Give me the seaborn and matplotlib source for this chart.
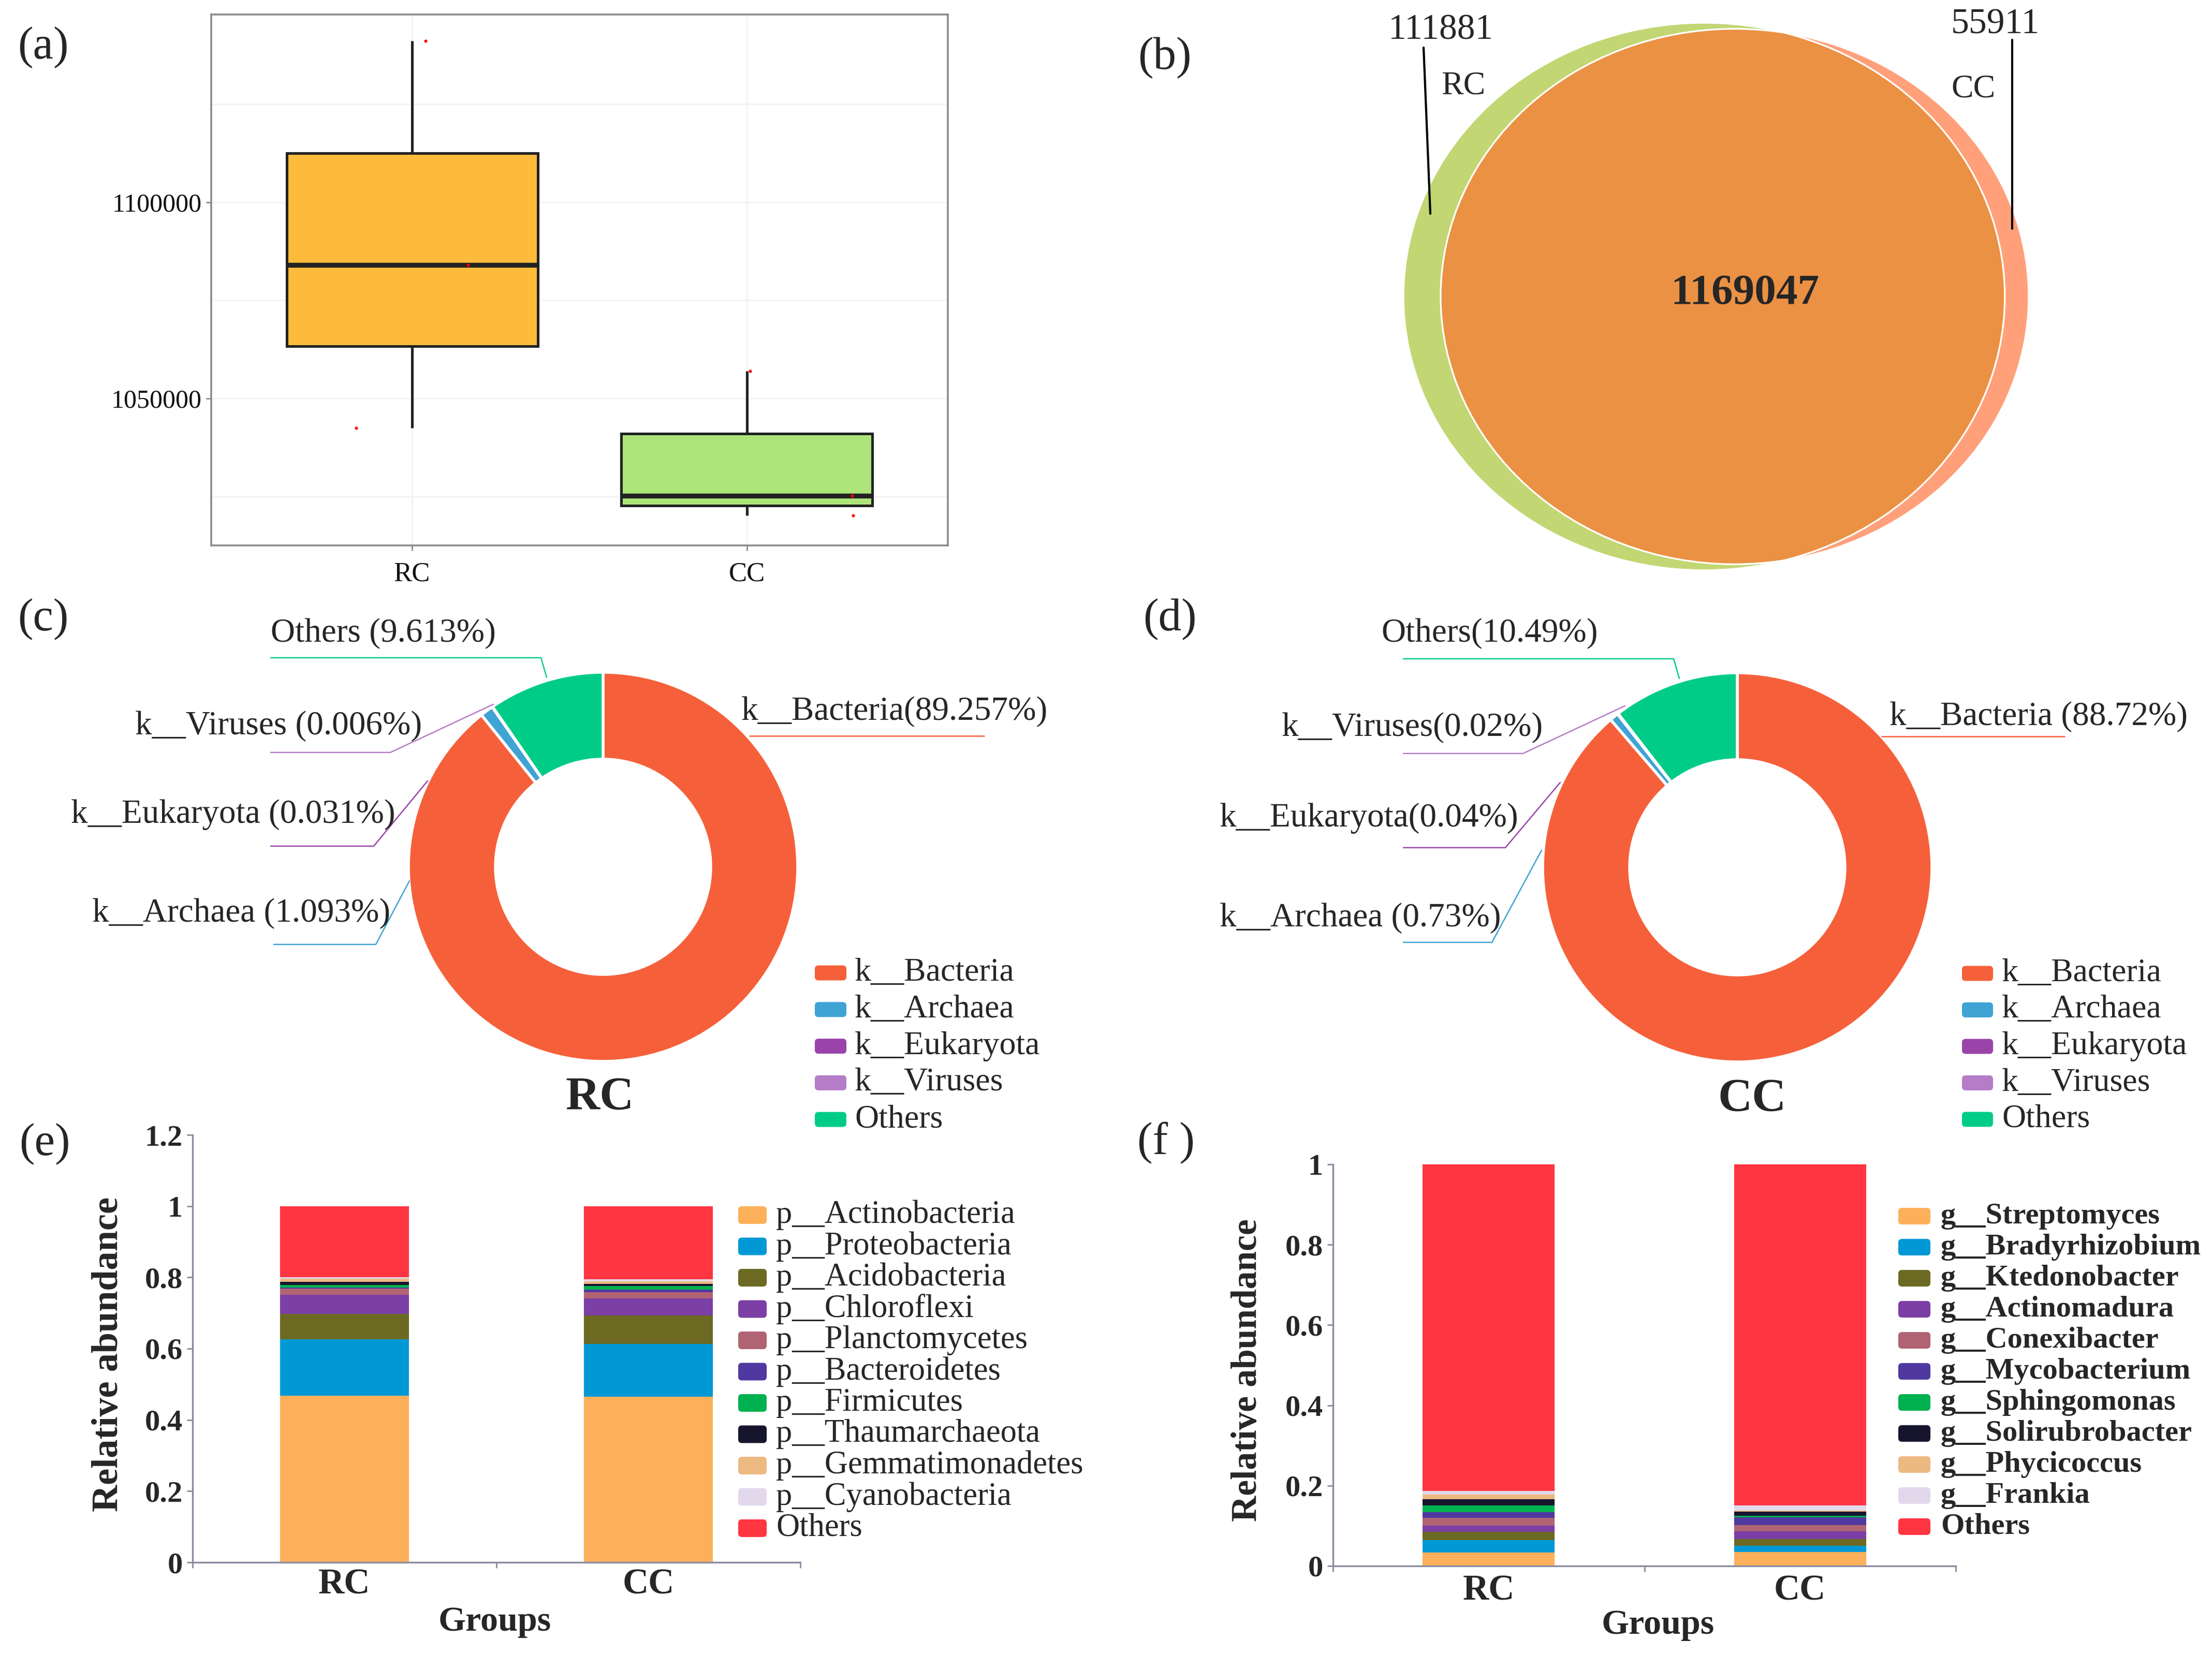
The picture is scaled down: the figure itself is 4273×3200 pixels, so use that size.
import numpy as np
import pandas as pd
import matplotlib
matplotlib.use('Agg')
import matplotlib.pyplot as plt
from matplotlib.patches import Circle, FancyBboxPatch
import seaborn as sns

sns.set_theme(style='white')
plt.rcParams['font.family'] = ['Liberation Serif', 'DejaVu Serif']

W, H = 4273, 3200
DPI = 200

# ---------------- data ----------------
groups = ['RC', 'CC']

# (a) boxplot values
rc_values = [1141000, 1084000, 1042500]
cc_values = [1057000, 1025200, 1020200]
box_colors = ['#FDBB3C', '#ADE57A']

# (b) venn counts
only_rc = 111881
only_cc = 55911
shared = 1169047

# (c)/(d) kingdom percentages
kingdoms = ['k__Bacteria', 'k__Archaea', 'k__Eukaryota', 'k__Viruses', 'Others']
kingdom_colors = ['#F5603A', '#3FA3D4', '#9A44AA', '#B57CC8', '#00CC88']
rc_kingdom = [89.257, 1.093, 0.031, 0.006, 9.613]
cc_kingdom = [88.72, 0.73, 0.04, 0.02, 10.49]
rc_seps = ['', ' ', ' ', ' ', ' ']
cc_seps = [' ', ' ', '', '', '']

# (e) phylum relative abundance
phyla = ['p__Actinobacteria', 'p__Proteobacteria', 'p__Acidobacteria', 'p__Chloroflexi',
         'p__Planctomycetes', 'p__Bacteroidetes', 'p__Firmicutes', 'p__Thaumarchaeota',
         'p__Gemmatimonadetes', 'p__Cyanobacteria', 'Others']
rc_phylum = [0.468, 0.158, 0.071, 0.054, 0.018, 0.003, 0.007, 0.008, 0.009, 0.005, 0.199]
cc_phylum = [0.465, 0.148, 0.080, 0.048, 0.018, 0.007, 0.010, 0.005, 0.008, 0.006, 0.205]

# (f) genus relative abundance
genera = ['g__Streptomyces', 'g__Bradyrhizobium', 'g__Ktedonobacter', 'g__Actinomadura',
          'g__Conexibacter', 'g__Mycobacterium', 'g__Sphingomonas', 'g__Solirubrobacter',
          'g__Phycicoccus', 'g__Frankia', 'Others']
rc_genus = [0.0335, 0.031, 0.020, 0.016, 0.019, 0.015, 0.016, 0.016, 0.011, 0.010, 0.8125]
cc_genus = [0.035, 0.0157, 0.0164, 0.0186, 0.0164, 0.0186, 0.0045, 0.0104, 0.0023, 0.0126, 0.8495]

taxon_colors = ['#FDB05A', '#0099D6', '#6C6A22', '#7B3FA5', '#B06473', '#4F39A0',
                '#00B14F', '#17152E', '#EDB982', '#E2D8EB', '#FF3541']

AXIS_GREY = '#8A8AA0'


def px_rect(x, y_top, w, h):
    return [x / W, 1 - (y_top + h) / H, w / W, h / H]


fig = plt.figure(figsize=(W / DPI, H / DPI), dpi=DPI)

# ---------------- (a) boxplot ----------------
ax_a = fig.add_axes(px_rect(408, 28, 1423, 1026))
df_a = pd.DataFrame({'group': ['RC'] * len(rc_values) + ['CC'] * len(cc_values),
                     'value': rc_values + cc_values})
sns.boxplot(data=df_a, x='group', y='value', hue='group', palette=box_colors, saturation=1,
            width=0.75, linewidth=1.8, linecolor='#222222', whis=np.inf, showcaps=False,
            fliersize=0, medianprops=dict(linewidth=3.4), legend=False, ax=ax_a, zorder=3)
np.random.seed(3)
sns.stripplot(data=df_a, x='group', y='value', color='red', size=2.2, jitter=0.4,
              ax=ax_a, zorder=4)
ax_a.set_xlim(-0.6, 1.6)
ax_a.set_ylim(1012576, 1147786)
ax_a.set_yticks([1050000, 1100000])
ax_a.set_yticklabels(['1050000', '1100000'])
ax_a.set_yticks([1025000, 1075000, 1125000], minor=True)
ax_a.grid(True, which='both', color='#F2F2F2', linewidth=1.0, zorder=0)
ax_a.set_axisbelow(True)
ax_a.set_xlabel('')
ax_a.set_ylabel('')
for sp in ax_a.spines.values():
    sp.set_visible(True)
    sp.set_color('#8C8C8C')
    sp.set_linewidth(1.3)
ax_a.tick_params(axis='both', which='major', bottom=True, left=True, length=3.5,
                 color='#8C8C8C', width=1.0, pad=3)
ax_a.tick_params(axis='y', which='major', labelsize=18, labelcolor='#111111')
ax_a.tick_params(axis='x', which='major', labelsize=19, labelcolor='#111111', pad=8)
ax_a.tick_params(which='minor', length=0)

# ---------------- (b) venn ----------------
def lens_area(r1, r2, d):
    if d >= r1 + r2:
        return 0.0
    if d <= abs(r1 - r2):
        return np.pi * min(r1, r2) ** 2
    a1 = r1 ** 2 * np.arccos((d ** 2 + r1 ** 2 - r2 ** 2) / (2 * d * r1))
    a2 = r2 ** 2 * np.arccos((d ** 2 + r2 ** 2 - r1 ** 2) / (2 * d * r2))
    a3 = 0.5 * np.sqrt((-d + r1 + r2) * (d + r1 - r2) * (d - r1 + r2) * (d + r1 + r2))
    return a1 + a2 - a3


r1 = np.sqrt((only_rc + shared) / np.pi)
r2 = np.sqrt((only_cc + shared) / np.pi)
lo, hi = abs(r1 - r2) + 1e-6, r1 + r2
for _ in range(100):
    mid = 0.5 * (lo + hi)
    if lens_area(r1, r2, mid) > shared:
        lo = mid
    else:
        hi = mid
d = 0.5 * (lo + hi)

# map circles to the panel box (the original panel is slightly stretched)
bx0, by0, bw, bh = 2600, 0, 1450, 1150
sx = (3919 - 2711) / (r1 + d + r2)
sy = 1058 / (2 * r1)
ax_b = fig.add_axes(px_rect(bx0, by0, bw, bh))
ax_b.set_xlim((bx0 - 2711) / sx - r1, (bx0 + bw - 2711) / sx - r1)
ax_b.set_ylim(-(by0 + bh - 573) / sy, (573 - by0) / sy)
ax_b.axis('off')
ax_b.add_patch(Circle((0, 0), r1, fc='#C2D673', ec='none'))
ax_b.add_patch(Circle((d, 0), r2, fc='#FFA07A', ec='none'))
inter = Circle((d, 0), r2, fc='#EB9144', ec='none')
ax_b.add_patch(inter)
inter.set_clip_path(Circle((0, 0), r1, transform=ax_b.transData))
ax_b.add_patch(Circle((0, 0), r1, fill=False, ec='white', lw=1.2))
ax_b.add_patch(Circle((d, 0), r2, fill=False, ec='white', lw=1.2))

# ---------------- (c)/(d) donuts ----------------
R = 376
def donut(cx, cy, values):
    ax = fig.add_axes(px_rect(cx - 1.1 * R, cy - 1.1 * R, 2.2 * R, 2.2 * R))
    ax.pie(values, colors=kingdom_colors, startangle=90, counterclock=False, radius=1,
           wedgeprops=dict(width=0.447, edgecolor='white', linewidth=2.0))
    ax.set_xlim(-1.1, 1.1)
    ax.set_ylim(-1.1, 1.1)
    ax.set_aspect('equal')
    ax.axis('off')
    return ax

donut(1165, 1675, rc_kingdom)
donut(3356, 1676, cc_kingdom)

# ---------------- (e)/(f) stacked bars ----------------
def stacked(ax, rc, cc, xpad):
    cum_rc = np.cumsum(rc)
    cum_cc = np.cumsum(cc)
    for i in reversed(range(len(rc))):
        sns.barplot(x=groups, y=[cum_rc[i], cum_cc[i]], color=taxon_colors[i], saturation=1,
                    width=0.424, linewidth=0, errorbar=None, ax=ax)
    ax.set_xlim(-0.5, 1.5)
    sns.despine(ax=ax)
    for side in ['left', 'bottom']:
        ax.spines[side].set_color(AXIS_GREY)
        ax.spines[side].set_linewidth(1.2)
    ax.set_xticks([-0.5, 0.5, 1.5], minor=True)
    ax.tick_params(axis='x', which='major', length=0, labelsize=25, pad=xpad)
    ax.tick_params(axis='x', which='minor', bottom=True, length=4, width=1.0, color=AXIS_GREY)
    ax.tick_params(axis='y', which='major', left=True, length=4, width=1.0, color=AXIS_GREY,
                   labelsize=21, pad=3)
    for lab in ax.get_xticklabels() + ax.get_yticklabels():
        lab.set_fontweight('bold')


ax_e = fig.add_axes(px_rect(372, 2193, 1174, 826))
stacked(ax_e, rc_phylum, cc_phylum, 4)
ax_e.set_ylim(0, 1.2)
ax_e.set_yticks([0, 0.2, 0.4, 0.6, 0.8, 1.0, 1.2])
ax_e.set_yticklabels(['0', '0.2', '0.4', '0.6', '0.8', '1', '1.2'], fontweight='bold')
ax_e.set_ylabel('Relative abundance', fontsize=26, fontweight='bold', va='center')
ax_e.yaxis.set_label_coords(-0.138, 0.487)
ax_e.set_xlabel('Groups', fontsize=24.5, fontweight='bold', va='center')
ax_e.xaxis.set_label_coords(0.497, -0.140)

ax_f = fig.add_axes(px_rect(2575, 2250, 1203, 776))
stacked(ax_f, rc_genus, cc_genus, 6)
ax_f.set_ylim(0, 1.0)
ax_f.set_yticks([0, 0.2, 0.4, 0.6, 0.8, 1.0])
ax_f.set_yticklabels(['0', '0.2', '0.4', '0.6', '0.8', '1'], fontweight='bold')
ax_f.set_ylabel('Relative abundance', fontsize=25, fontweight='bold', va='center')
ax_f.yaxis.set_label_coords(-0.137, 0.487)
ax_f.set_xlabel('Groups', fontsize=24.5, fontweight='bold', va='center')
ax_f.xaxis.set_label_coords(0.522, -0.147)

# ---------------- overlay for texts, leader lines, legends ----------------
ov = fig.add_axes([0, 0, 1, 1], zorder=10)
ov.set_xlim(0, W)
ov.set_ylim(H, 0)
ov.axis('off')

for lab, x, y in [('(a)', 83, 92), ('(b)', 2250, 112), ('(c)', 83, 1197),
                  ('(d)', 2260, 1197), ('(e)', 86, 2211), ('(f )', 2252, 2208)]:
    ov.text(x, y, lab, ha='center', va='center', fontsize=32)

# venn labels
ov.text(2783, 59, f'{only_rc}', ha='center', va='center', fontsize=25)
ov.text(3854, 48, f'{only_cc}', ha='center', va='center', fontsize=25)
ov.text(2827, 166, 'RC', ha='center', va='center', fontsize=23)
ov.text(3812, 172, 'CC', ha='center', va='center', fontsize=23)
ov.text(3371, 567, f'{shared}', ha='center', va='center', fontsize=30, fontweight='bold')
ov.plot([2750, 2763], [92, 413], color='black', lw=1.5)
ov.plot([3887, 3887], [77, 442], color='black', lw=1.5)

# donut labels: (text x, text y, leader line points)
rc_label_pos = [
    (1432, 1375, [(1448, 1422), (1901, 1422)]),
    (178, 1765, [(529, 1825), (726, 1825), (791, 1702)]),
    (137, 1574, [(523, 1635), (722, 1635), (826, 1509)]),
    (261, 1403, [(523, 1454), (754, 1454), (953, 1361)]),
    (523, 1224, [(523, 1271), (1045, 1271), (1056, 1309)]),
]
cc_label_pos = [
    (3650, 1385, [(3635, 1423), (3988, 1423)]),
    (2356, 1774, [(2711, 1821), (2882, 1821), (2978, 1643)]),
    (2356, 1581, [(2711, 1638), (2908, 1638), (3014, 1512)]),
    (2476, 1406, [(2711, 1456), (2942, 1456), (3139, 1364)]),
    (2668, 1224, [(2711, 1273), (3233, 1273), (3244, 1311)]),
]

def donut_labels(values, seps, positions):
    for name, v, sep, col, (tx, ty, pts) in zip(kingdoms, values, seps, kingdom_colors, positions):
        ov.text(tx, ty, f'{name}{sep}({v:g}%)', ha='left', va='center', fontsize=23.5)
        xs, ys = zip(*pts)
        ov.plot(xs, ys, color=col, lw=0.9)

donut_labels(rc_kingdom, rc_seps, rc_label_pos)
donut_labels(cc_kingdom, cc_seps, cc_label_pos)

ov.text(1159, 2122, 'RC', ha='center', va='center', fontsize=33, fontweight='bold')
ov.text(3385, 2125, 'CC', ha='center', va='center', fontsize=33, fontweight='bold')


def legend_rows(x, y0, pitch, w, h, gap, names, colors, size, weight):
    for i, (n, c) in enumerate(zip(names, colors)):
        y = y0 + i * pitch
        ov.add_patch(FancyBboxPatch((x, y - h / 2), w, h,
                                    boxstyle='round,pad=0,rounding_size=7', fc=c, ec='none'))
        ov.text(x + w + gap, y, n, ha='left', va='center', fontsize=size, fontweight=weight)

legend_rows(1574, 1880, 70.8, 61, 29, 16, kingdoms, kingdom_colors, 23, 'normal')
legend_rows(3790, 1881, 70.5, 60, 29, 17, kingdoms, kingdom_colors, 23, 'normal')
legend_rows(1426, 2348, 60.5, 55, 34, 18, phyla, taxon_colors, 22.5, 'normal')
legend_rows(3667, 2350, 60.0, 62, 32, 20, genera, taxon_colors, 21, 'bold')

fig.savefig('out.png', dpi=DPI)
